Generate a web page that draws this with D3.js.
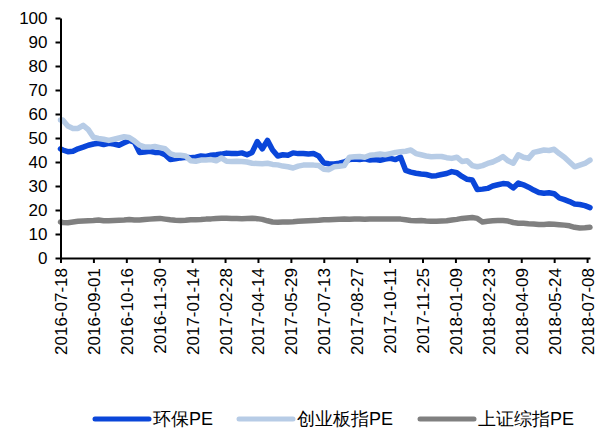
<!DOCTYPE html>
<html>
<head>
<meta charset="utf-8">
<script src="https://cdn.jsdelivr.net/npm/d3@7"></script>
<style>
  body { margin: 0; background: #fff; }
  text { font-family: "Liberation Sans", Arial, sans-serif; fill: #000; }
</style>
</head>
<body>
<div id="chart"></div>
<script>
/* PE line chart: 环保 vs 创业板指 vs 上证综指 */

const dates = [
  "2016-07-18","2016-07-21","2016-07-28","2016-08-04","2016-08-11","2016-08-18","2016-08-25",
  "2016-09-01","2016-09-08","2016-09-15","2016-09-22","2016-09-29","2016-10-06","2016-10-13",
  "2016-10-20","2016-10-27","2016-11-03","2016-11-10","2016-11-17","2016-11-24","2016-12-01",
  "2016-12-08","2016-12-15","2016-12-22","2016-12-29","2017-01-05","2017-01-12","2017-01-19",
  "2017-01-26","2017-02-02","2017-02-09","2017-02-16","2017-02-23","2017-03-02","2017-03-09",
  "2017-03-16","2017-03-23","2017-03-30","2017-04-06","2017-04-13","2017-04-20","2017-04-27",
  "2017-05-04","2017-05-11","2017-05-18","2017-05-25","2017-06-01","2017-06-08","2017-06-15",
  "2017-06-22","2017-06-29","2017-07-06","2017-07-13","2017-07-20","2017-07-27","2017-08-03",
  "2017-08-10","2017-08-17","2017-08-24","2017-08-31","2017-09-07","2017-09-14","2017-09-21",
  "2017-09-28","2017-10-05","2017-10-12","2017-10-19","2017-10-26","2017-11-02","2017-11-09",
  "2017-11-16","2017-11-23","2017-11-30","2017-12-07","2017-12-14","2017-12-21","2017-12-28",
  "2018-01-04","2018-01-11","2018-01-18","2018-01-25","2018-02-01","2018-02-08","2018-02-15",
  "2018-02-22","2018-03-01","2018-03-08","2018-03-15","2018-03-22","2018-03-29","2018-04-05",
  "2018-04-12","2018-04-19","2018-04-26","2018-05-03","2018-05-10","2018-05-17","2018-05-24",
  "2018-05-31","2018-06-07","2018-06-14","2018-06-21","2018-06-28","2018-07-05","2018-07-12"
];

const huanbao = [
  45.5,45,44.3,44.5,45.5,46.2,47,
  47.5,47.8,47.3,47.8,47.5,47,48,
  49,48.3,44,44.2,44.5,44,44,
  43,41,41.3,41.7,42,41.8,42,
  42.5,42.3,42.8,43,43.3,43.7,43.5,
  43.5,43.8,43,44,48.5,45.5,49,
  45,42.5,43,42.8,43.8,43.5,43.5,
  43.3,43.5,42.5,39.6,39.3,39.2,39.5,
  40,41,41.2,41,41.3,40.8,41,
  40.7,41.2,41.5,41,42,36.5,35.8,
  35.3,35,34.8,34.2,34.3,34.8,35.2,
  36,35.5,34,32.8,32.5,28.5,28.7,
  29,30,30.5,31,30.8,29.2,31.2,
  30.5,29.5,28.3,27.3,27,27.2,26.8,
  25,24.3,23.5,22.5,22.3,21.8,21
];

const chuangye = [
  57.5,57.5,55,54,54,55.3,53.5,
  50.3,49.8,49.5,49,49.5,50,50.5,
  50.2,48.8,47,46.3,46.2,46.5,46,
  45.5,43.5,42.8,42.8,42.5,40.5,40.3,
  40.8,40.8,41,40.5,41.7,40.3,40.2,
  40.3,40.2,40,39.5,39.4,39.3,39.5,
  39,38.8,38.3,38,37.5,38.3,38.7,
  38.8,38.7,38.5,37,36.8,38,38.2,
  38.5,42,42.2,42.3,42,42.8,43,
  43.3,43,43.5,44,44.3,44.5,45,
  43.5,43,42.5,42.2,42.3,42.3,41.8,
  41.5,42,40.2,40.5,38.5,38,38.5,
  39.4,40,41,42.3,40.5,39.5,43,
  42,41.5,44,44.5,45,44.8,45.3,
  43.5,42,40,38,38.7,39.4,40.8
];

const shangzheng = [
  15,14.8,14.7,15,15.3,15.4,15.5,
  15.6,15.8,15.5,15.5,15.6,15.7,15.8,
  16,15.8,15.8,16,16.2,16.4,16.5,
  16.2,15.9,15.7,15.6,15.7,15.9,15.9,
  16,16.2,16.3,16.5,16.6,16.6,16.5,
  16.5,16.4,16.5,16.6,16.4,16.1,15.5,
  15,14.9,15,15,15.1,15.3,15.4,
  15.5,15.6,15.7,15.9,15.9,16,16.1,
  16.2,16.1,16.2,16.2,16.1,16.2,16.3,
  16.2,16.2,16.3,16.3,16.2,15.9,15.6,
  15.5,15.6,15.4,15.3,15.3,15.4,15.5,
  15.8,16.1,16.5,16.7,16.9,16.5,15,
  15.3,15.5,15.6,15.6,15.4,14.8,14.5,
  14.5,14.3,14.2,14,14,14.2,14.1,
  13.9,13.7,13.4,12.8,12.5,12.6,12.8
];

const yTicks = [0,10,20,30,40,50,60,70,80,90,100];
const xTickLabels = [
  "2016-07-18","2016-09-01","2016-10-16","2016-11-30","2017-01-14","2017-02-28",
  "2017-04-14","2017-05-29","2017-07-13","2017-08-27","2017-10-11","2017-11-25",
  "2018-01-09","2018-02-23","2018-04-09","2018-05-24","2018-07-08"
];

const seriesNames = ["环保PE", "创业板指PE", "上证综指PE"];
const colors = ["#0a46d9", "#b7cce6", "#808080"];

const width = 604, height = 430;
const margin = { top: 18, right: 14, bottom: 172, left: 60.5 };

const parse = d3.timeParse("%Y-%m-%d");
const series = [huanbao, chuangye, shangzheng].map((vals, i) => ({
  name: seriesNames[i],
  color: colors[i],
  values: dates.map((d, j) => ({ date: parse(d), value: vals[j] }))
}));

const svg = d3.select("#chart")
  .append("svg")
  .attr("width", width)
  .attr("height", height);

const x = d3.scaleTime()
  .domain([parse(dates[0]), parse(dates[dates.length - 1])])
  .range([margin.left, width - margin.right]);

const y = d3.scaleLinear()
  .domain([0, 100])
  .range([height - margin.bottom, margin.top]);

const line = d3.line()
  .x(d => x(d.date))
  .y(d => y(d.value));

svg.selectAll(".series")
  .data(series)
  .join("path")
  .attr("class", "series")
  .attr("fill", "none")
  .attr("stroke", d => d.color)
  .attr("stroke-width", 5.5)
  .attr("stroke-linejoin", "round")
  .attr("stroke-linecap", "round")
  .attr("d", d => line(d.values));

// axes
const yAxis = g => g
  .attr("transform", `translate(${margin.left},0)`)
  .call(d3.axisLeft(y).tickValues(yTicks).tickSize(5).tickSizeOuter(0))
  .call(g => g.selectAll("path, line").attr("stroke", "#000").attr("stroke-width", 2))
  .call(g => g.selectAll("text")
    .attr("x", -13)
    .attr("font-size", 17)
    .attr("font-family", "Liberation Sans, Arial, sans-serif"));

const xAxis = g => g
  .attr("transform", `translate(0,${height - margin.bottom})`)
  .call(d3.axisBottom(x).tickValues(xTickLabels.map(parse)).tickSize(5).tickSizeOuter(0)
    .tickFormat(d3.timeFormat("%Y-%m-%d")))
  .call(g => g.selectAll("path, line").attr("stroke", "#000").attr("stroke-width", 2))
  .call(g => g.selectAll("text")
    .attr("font-size", 17)
    .attr("font-family", "Liberation Sans, Arial, sans-serif")
    .attr("text-anchor", "end")
    .attr("dy", "0.35em")
    .attr("transform", "translate(0,4) rotate(-90)")
    .attr("x", -6)
    .attr("y", 0));

svg.append("g").call(xAxis);
svg.append("g").call(yAxis);

// legend
const legendX = [95, 239, 420];
const legend = svg.append("g")
  .selectAll("g")
  .data(series)
  .join("g")
  .attr("transform", (d, i) => `translate(${legendX[i]},419)`);

legend.append("line")
  .attr("x1", 0).attr("x2", 54)
  .attr("stroke", d => d.color)
  .attr("stroke-width", 5)
  .attr("stroke-linecap", "round");

legend.append("text")
  .attr("x", 58)
  .attr("dy", "0.35em")
  .attr("font-size", 18)
  .text(d => d.name);
</script>
</body>
</html>
